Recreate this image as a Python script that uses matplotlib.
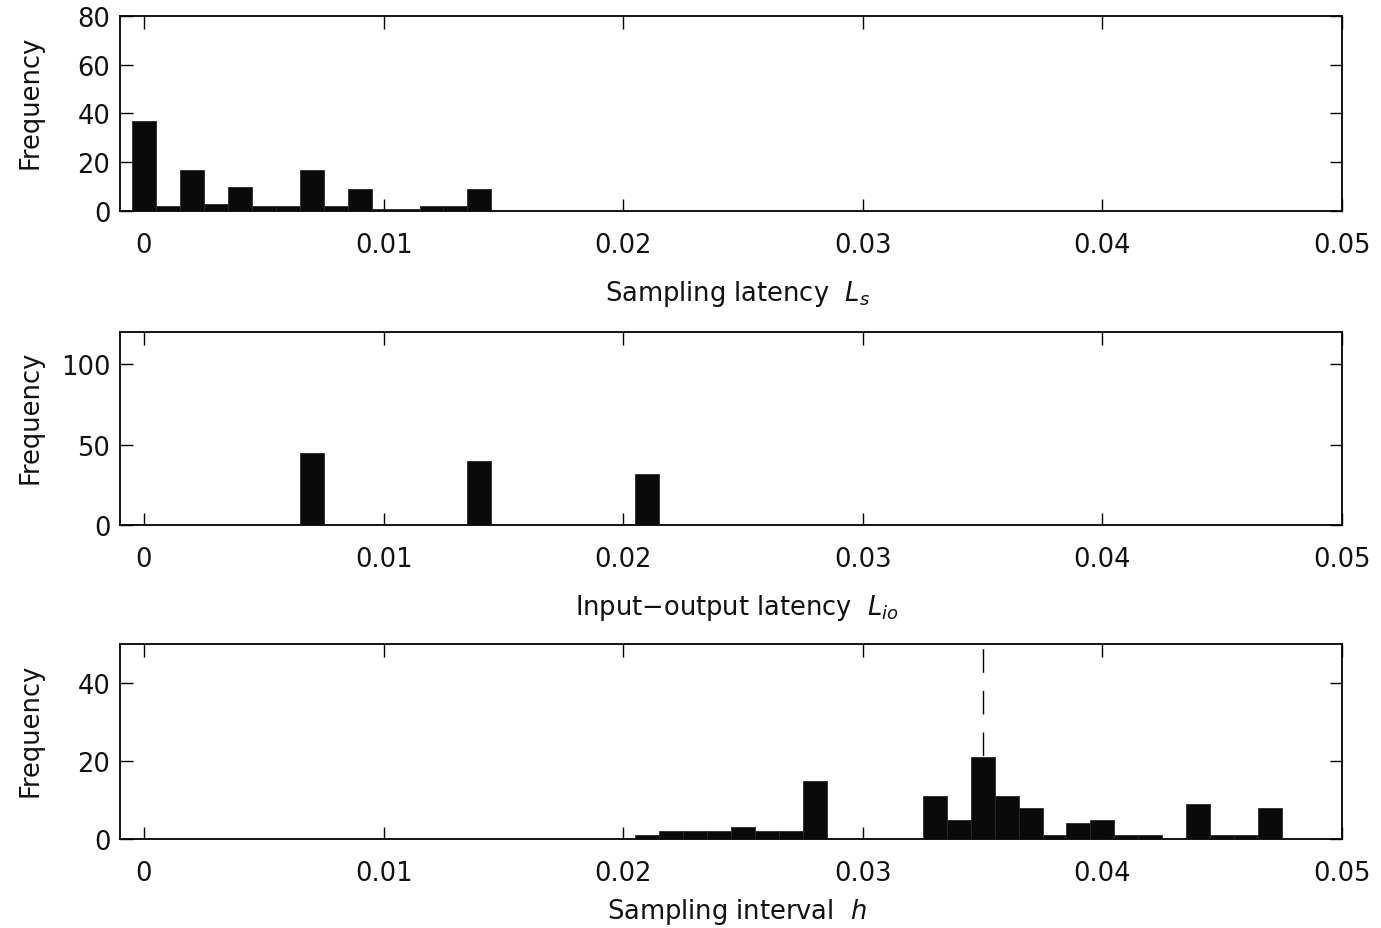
import matplotlib
matplotlib.use("Agg")
import matplotlib.pyplot as plt
from matplotlib.ticker import FuncFormatter

plt.rcParams['font.family'] = ['DejaVu Sans']
plt.rcParams['mathtext.fontset'] = 'dejavusans'
plt.rcParams['font.size'] = 18.5

# Sampling latency L_s (bin centres in seconds, counts)
ls_bins = [0.000, 0.001, 0.002, 0.003, 0.004, 0.005, 0.006, 0.007,
           0.008, 0.009, 0.010, 0.011, 0.012, 0.013, 0.014]
ls_counts = [37, 2, 17, 3, 10, 2, 2, 17, 2, 9, 1, 1, 2, 2, 9]

# Input-output latency L_io
lio_bins = [0.007, 0.014, 0.021]
lio_counts = [45, 40, 32]

# Sampling interval h
h_bins = [0.021, 0.022, 0.023, 0.024, 0.025, 0.026, 0.027, 0.028,
          0.033, 0.034, 0.035, 0.036, 0.037, 0.038, 0.039, 0.040,
          0.041, 0.042, 0.044, 0.045, 0.046, 0.047]
h_counts = [1, 2, 2, 2, 3, 2, 2, 15,
            11, 5, 21, 11, 8, 1, 4, 5,
            1, 1, 9, 1, 1, 8]
h_nominal = 0.035

x_ticks = [0, 0.01, 0.02, 0.03, 0.04, 0.05]

fig = plt.figure(figsize=(13.81, 9.29), dpi=100)
ax1 = fig.add_axes([0.0869, 0.7718, 0.8849, 0.2099])
ax2 = fig.add_axes([0.0869, 0.4338, 0.8849, 0.2078])
ax3 = fig.add_axes([0.0869, 0.0958, 0.8849, 0.2099])

panels = [
    (ax1, ls_bins, ls_counts, (0, 80), [0, 20, 40, 60, 80], "Sampling latency  $L_s$", -0.345),
    (ax2, lio_bins, lio_counts, (0, 120), [0, 50, 100], "Input\u2212output latency  $L_{io}$", -0.345),
    (ax3, h_bins, h_counts, (0, 50), [0, 20, 40], "Sampling interval  $h$", -0.29),
]

for ax, bins, counts, ylim, yticks, xlabel, ylab in panels:
    ax.bar(bins, counts, width=0.001, color='#0a0a0a', edgecolor='#2a2a2a',
           linewidth=0.6, zorder=3)
    ax.set_xlim(-0.001, 0.05)
    ax.set_ylim(*ylim)
    ax.set_xticks(x_ticks)
    ax.set_yticks(yticks)
    ax.xaxis.set_major_formatter(FuncFormatter(lambda v, p: "%g" % v))
    ax.tick_params(direction='in', length=9, width=1, top=True, right=True,
                   labelsize=18.5, color='black', labelcolor='#111111')
    ax.tick_params(axis='x', pad=15)
    ax.tick_params(axis='y', pad=7)
    for s in ax.spines.values():
        s.set_linewidth(1.3)
    ax.set_xlabel(xlabel, color='#111111')
    ax.xaxis.set_label_coords(0.505, ylab)
    ax.set_ylabel("Frequency", color='#111111')
    ax.yaxis.set_label_coords(-0.063, 0.565)

# nominal sampling interval
ax3.plot([h_nominal, h_nominal], [0, 50], color='black', lw=1,
         linestyle=(0, (17, 13)), zorder=2)

fig.savefig("out.png", dpi=100)
